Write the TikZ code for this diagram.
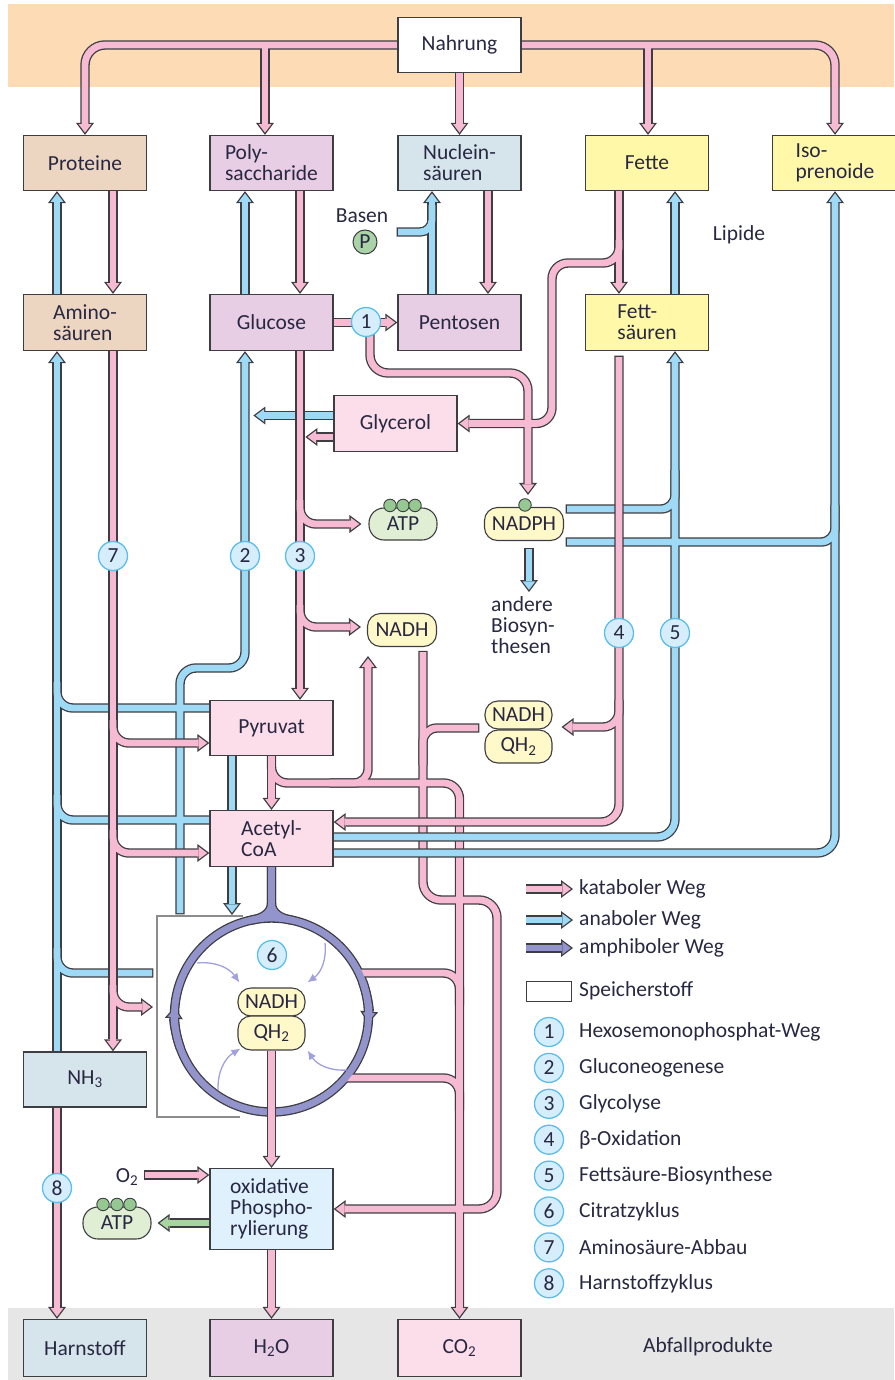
\documentclass[tikz,border=0pt]{standalone}
\usepackage{fontspec}
\setmainfont{Carlito}
\usepackage{xcolor}
\usepackage{tikz}
\usetikzlibrary{arrows.meta, calc, positioning}
\definecolor{txt}{RGB}{40,40,66}
\definecolor{rand}{RGB}{62,62,66}
\definecolor{katc}{RGB}{246,186,211}
\definecolor{anac}{RGB}{158,217,246}
\definecolor{amphc}{RGB}{148,148,204}
\definecolor{gruenc}{RGB}{168,212,160}
\definecolor{peach}{RGB}{253,219,180}
\definecolor{grau}{RGB}{230,230,230}
\definecolor{protc}{RGB}{236,214,194}
\definecolor{zuckc}{RGB}{232,206,228}
\definecolor{nucc}{RGB}{214,228,236}
\definecolor{fettc}{RGB}{255,248,168}
\definecolor{rosac}{RGB}{252,222,234}
\definecolor{oxc}{RGB}{222,241,252}
\definecolor{kapc}{RGB}{255,248,200}
\definecolor{atpc}{RGB}{224,238,212}
\definecolor{punktc}{RGB}{150,200,146}
\definecolor{numc}{RGB}{214,238,252}
\definecolor{numrand}{RGB}{90,190,236}
\definecolor{pfeilc}{RGB}{160,160,222}

\newcommand\grundfont{\fontsize{21.5}{21}\selectfont}

\pgfdeclarelayer{wege}
\pgfsetlayers{wege,main}

\tikzset{
  box/.style={draw=rand, line width=1.3pt, minimum width=123pt, minimum height=55pt, inner sep=0pt, align=left},
  kap/.style={draw=rand, line width=1.1pt, fill=kapc, rounded corners=13pt, inner sep=0pt, minimum width=67pt, minimum height=30pt},
  punkt/.style={circle, draw=rand, line width=0.9pt, fill=punktc, minimum size=12.5pt, inner sep=0pt},
  num/.style={circle, draw=numrand, line width=1.3pt, fill=numc, minimum size=29pt, inner sep=0pt},
  lbl/.style={inner sep=0pt},
  innen/.style={draw=pfeilc, line width=1.3pt, -{Latex[length=9pt,width=8pt]}},
  pass1/.style={
    kat/.style={draw=rand, line width=9.4pt},
    ana/.style={draw=rand, line width=9.4pt},
    amph/.style={draw=rand, line width=9.4pt},
    gruen/.style={draw=rand, line width=9.4pt},
    pf/.style={-{Triangle[length=12pt,width=18pt,line width=0pt]}},
    frei/.style={shorten <=-1.3pt}},
  pass2/.style={
    kat/.style={draw=katc, line width=6.8pt},
    ana/.style={draw=anac, line width=6.8pt},
    amph/.style={draw=amphc, line width=6.8pt},
    gruen/.style={draw=gruenc, line width=6.8pt},
    pf/.style={-{Triangle[length=8.5pt,width=12.8pt,line width=0pt]}, shorten >=2.2pt},
    frei/.style={}}
}

%% untere Ebene
\newcommand\wegeA{
  % Nahrung
  \draw[kat,pf,rounded corners=20pt] (nahrung.west) -| (prot.north);
  \draw[kat,pf] (jn1) -- (jn1 |- poly.north);
  \draw[kat,pf] (nahrung.south) -- (nuc.north);
  \draw[kat,pf] (jn2) -- (jn2 |- fette.north);
  \draw[kat,pf,rounded corners=20pt] (nahrung.east) -| (iso.north);
  % Speicherstoffe <-> Bausteine
  \draw[kat,pf] ([xshift=28pt]prot.south) -- ([xshift=28pt]amino.north);
  \draw[ana,pf] ([xshift=-28pt]amino.north) -- ([xshift=-28pt]prot.south);
  \draw[kat,pf] ([xshift=28.5pt]poly.south) -- ([xshift=28.5pt]gluc.north);
  \draw[ana,pf] ([xshift=-26.5pt]gluc.north) -- ([xshift=-26.5pt]poly.south);
  \draw[kat,pf] ([xshift=28.5pt]nuc.south) -- ([xshift=28.5pt]pent.north);
  \draw[ana,pf] ([xshift=-27.5pt]pent.north) -- ([xshift=-27.5pt]nuc.south);
  \draw[ana,frei,rounded corners=12pt] (bas) -| (jbas);
  \draw[kat,pf] ([xshift=-28pt]fette.south) -- ([xshift=-28pt]fs.north);
  \draw[ana,pf] ([xshift=28pt]fs.north) -- ([xshift=28pt]fette.south);
  \draw[kat,pf,rounded corners=16pt] (jf1) |- (jf2) |- (glyc.east);
  % Weg 1
  \draw[kat,pf] (gluc.east) -- (pent.west);
  \draw[kat,pf,rounded corners=18pt] ([xshift=4pt]n1.center) |- (j1) -- ($(nadph.north)+(4,-12)$);
  \draw[ana,pf,frei] ($(nadph.south)+(5,8)$) -- ($(nadph.south)+(5,51)$);
  % Glycerol
  \draw[ana,pf] ([yshift=8pt]glyc.west) -- ++(-80,0);
  \draw[kat,pf] ([yshift=-13.5pt]glyc.west) -- ++(-28,0);
  % anabol zu Aminosaeuren
  \draw[ana,pf] ([xshift=-28pt]nh3.north) -- ([xshift=-28pt]amino.south);
  \draw[ana,rounded corners=16pt] ([yshift=20pt]pyr.west) -| (jb1);
  \draw[ana,rounded corners=16pt] ([yshift=18.5pt]acoa.west) -| (jb2);
  \draw[ana,frei,rounded corners=16pt] (jb3) -| (jb4);
  % Gluconeogenese
  \draw[ana,pf,frei,rounded corners=16pt] (jg1) |- (jg2) -- ([xshift=-26.5pt]gluc.south);
  \draw[ana,pf] ([xshift=-39.5pt]pyr.south) -- (jp1);
  % Pyruvat
  \draw[kat,pf] (pyr.south) -- (acoa.north);
  \draw[kat,pf,rounded corners=16pt] (pyr.south) |- (j6) -- (co2.north);
  \draw[kat,pf,rounded corners=14pt] (j6a) -| ($(nadh1.south)+(-34,9)$);
  % NADH -> Atmungskette
  \draw[kat,pf,frei,rounded corners=18pt] ($(nadh1.south)+(21,5)$) |- (jn4) |- (oxph.east);
  \draw[kat,frei,rounded corners=14pt] (jq1) -| (jq2);
  % Citratzyklus
  \draw[kat,rounded corners=16pt] (jz1) -| (jz2);
  \draw[kat,rounded corners=16pt] (jz3) -| (jz4);
  \draw[amph] (acoa.south) -- ($(zyk)+(0,-97)$);
  \draw[amph] (acoa.south) -- ++(0,36) to[out=270,in=172] (jz5);
  \draw[amph] (acoa.south) -- ++(0,36) to[out=270,in=8] (jz6);
  \draw[amph] (zyk) circle[radius=97];
  \draw[amph,pf] ($(zyk)+(-20:97)$) arc[start angle=-20, end angle=5, radius=97];
  \draw[amph,pf] ($(zyk)+(160:97)$) arc[start angle=160, end angle=185, radius=97];
  % Ausscheidung
  \draw[kat,pf] ([xshift=-28pt]nh3.south) -- ([xshift=-28pt]harn.north);
  \draw[kat,pf] (oxph.south) -- (wasser.north);
  \draw[kat,pf,frei] ([xshift=7pt,yshift=2pt]o2.east) -- ([yshift=34pt]oxph.west);
  \draw[gruen,pf] ([yshift=-14pt]oxph.west) -- ([xshift=6pt]atp2.east);
  % Legende
  \draw[kat,pf] (lk1) -- (lk2);
  \draw[ana,pf] (la1) -- (la2);
  \draw[amph,pf] (lm1) -- (lm2);
}

%% mittlere Ebene
\newcommand\wegeB{
  \draw[kat,pf] ([xshift=28.5pt]gluc.south) -- ([xshift=28.5pt]pyr.north);
  \draw[kat,pf,rounded corners=16pt] (j3a) |- ([xshift=-7pt]atp1.west);
  \draw[kat,pf,rounded corners=16pt] (j3b) |- ([xshift=-6pt,yshift=3pt]nadh1.west);
  \draw[kat,pf] ([xshift=28pt]amino.south) -- ([xshift=28pt]nh3.north);
  \draw[kat,pf,rounded corners=16pt] (j7a) |- ([yshift=-15pt]pyr.west);
  \draw[kat,pf,rounded corners=16pt] (j7b) |- ([yshift=-14.5pt]acoa.west);
  \draw[kat,pf,rounded corners=16pt] (j7c) |- (j7d);
  \draw[ana,pf,rounded corners=18pt] ([yshift=1.5pt]acoa.east) -| ([xshift=28pt]fs.south);
  \draw[ana,pf,rounded corners=18pt] ([yshift=-14.5pt]acoa.east) -| (iso.south);
  \draw[ana,frei,rounded corners=14pt] (js1) -| (js2);
  \draw[ana,frei,rounded corners=14pt] (js3) -| (js4);
  \draw[kat,pf] (qh2b.south) -- (oxph.north);
}

%% obere Ebene
\newcommand\wegeC{
  \draw[kat,pf,frei,rounded corners=18pt] (j4a) |- ([yshift=16.5pt]acoa.east);
  \draw[kat,pf,rounded corners=16pt] (j4b) |- ($(nadh2.east)+(9,12)$);
}

\begin{document}
\begin{tikzpicture}[x=1pt, y=-1pt, every node/.style={font=\grundfont, text=txt}]
\useasboundingbox (0,0) rectangle (894,1380);

% Kaesten
\node[box, fill=white] (nahrung) at (459.5,45) {Nahrung};
\node[box, fill=protc] (prot) at (85,163) {Proteine};
\node[box, fill=zuckc] (poly) at (271.5,163) {Poly-\\saccharide};
\node[box, fill=nucc] (nuc) at (459.5,163) {Nuclein-\\säuren};
\node[box, fill=fettc] (fette) at (647,163) {Fette};
\node[box, fill=fettc, minimum width=125pt] (iso) at (835,163) {Iso-\\prenoide};
\node[box, fill=protc, minimum height=56pt] (amino) at (85,322.5) {Amino-\\säuren};
\node[box, fill=zuckc, minimum height=56pt] (gluc) at (271.5,322.5) {Glucose};
\node[box, fill=zuckc, minimum height=56pt] (pent) at (459.5,322.5) {Pentosen};
\node[box, fill=fettc, minimum height=56pt] (fs) at (647,322.5) {Fett-\\säuren};
\node[box, fill=rosac, minimum height=56pt] (glyc) at (395.5,423.5) {Glycerol};
\node[box, fill=rosac] (pyr) at (271.5,728) {Pyruvat};
\node[box, fill=rosac, minimum height=56pt] (acoa) at (271.5,838.5) {Acetyl-\\CoA};
\node[box, fill=nucc] (nh3) at (85,1079.5) {NH\textsubscript{3}};
\node[box, fill=oxc, minimum height=81pt] (oxph) at (271.5,1209) {oxidative\\Phospho-\\rylierung};
\node[box, fill=nucc, minimum height=57pt] (harn) at (85,1348) {Harnstoff};
\node[box, fill=zuckc, minimum height=57pt] (wasser) at (271.5,1348) {H\textsubscript{2}O};
\node[box, fill=rosac, minimum height=57pt] (co2) at (459.5,1348) {CO\textsubscript{2}};

% Coenzyme
\node[kap, fill=atpc, minimum width=68pt, minimum height=32pt, rounded corners=15pt] (atp1) at (403,524) {ATP};
\foreach \i/\dx in {1/-13,2/0,3/12} \node[punkt] (atp1p\i) at ($(atp1.north)+(\dx,-2)$) {};
\node[kap, minimum width=79pt, minimum height=33pt] (nadph) at (524,524) {NADPH};
\node[punkt] (nadphp) at ($(nadph.north)+(1,-2)$) {};
\node[kap, minimum width=69pt, minimum height=33pt] (nadh1) at (402,630) {NADH};
\node[kap, minimum height=28pt] (nadh2) at (518.5,715) {NADH};
\node[kap, minimum height=33pt] (qh2a) at (518.5,746.5) {QH\textsubscript{2}};
\node[kap, minimum height=28pt] (nadh3) at (271.5,1002) {NADH};
\node[kap, minimum height=34pt] (qh2b) at (271.5,1033) {QH\textsubscript{2}};
\node[kap, fill=atpc, minimum width=68pt, minimum height=32pt, rounded corners=15pt] (atp2) at (117,1223) {ATP};
\foreach \i/\dx in {1/-14,2/0,3/13} \node[punkt] (atp2p\i) at ($(atp2.north)+(\dx,-2)$) {};

% Beschriftungen
\node[lbl] (basen) at (362,216) {Basen};
\node[circle, draw=rand, line width=1pt, fill=punktc!80, minimum size=24pt, inner sep=0pt] (phos) at (365,242) {P};
\node[lbl] (lipide) at (739,235) {Lipide};
\node[lbl, anchor=north west, align=left] (biosyn) at (491,596) {andere\\Biosyn-\\thesen};
\node[lbl] (o2) at (127,1177) {O\textsubscript{2}};
\node[lbl] (abfall) at (708,1347) {Abfallprodukte};

% Nummern
\node[num] (n1) at (366,322) {1};
\node[num] (n2) at (245,556) {2};
\node[num] (n3) at (300,556) {3};
\node[num] (n4) at (619,633) {4};
\node[num] (n5) at (675,633) {5};
\node[num] (n6) at (272,955) {6};
\node[num] (n7) at (113,556) {7};
\node[num] (n8) at (57,1188) {8};

% Legende
\node[lbl, anchor=west] (lkt) at (579,889) {kataboler Weg};
\node[lbl, anchor=west] (lat) at (579,920) {anaboler Weg};
\node[lbl, anchor=west] (lmt) at (579,948) {amphiboler Weg};
\node[draw=rand, line width=1.3pt, minimum width=45pt, minimum height=20pt, inner sep=0pt] (lsp) at (549,991.5) {};
\node[lbl, anchor=west] (lspt) at (579,991) {Speicherstoff};
\foreach \nr/\wort [count=\k from 0] in {1/Hexosemonophosphat-Weg, 2/Gluconeogenese, 3/Glycolyse, 4/β-Oxidation, 5/Fettsäure-Biosynthese, 6/Citratzyklus, 7/Aminosäure-Abbau, 8/Harnstoffzyklus} {
  \node[num] (leg\nr) at (549, 1032+35.9*\k) {\nr};
  \node[lbl, anchor=west] (legt\nr) at (579, 1032+35.9*\k) {\wort};
}

% Hilfspunkte
\coordinate (jn1) at (265,45);
\coordinate (jn2) at (648,45);
\coordinate (bas) at (398,232);
\coordinate (jbas) at (432,205);
\coordinate (jf1) at (619,240);
\coordinate (jf2) at (552,263);
\coordinate (j1) at (528,373);
\coordinate (jb1) at (57,682);
\coordinate (jb2) at (57,795);
\coordinate (jb3) at (152,973);
\coordinate (jb4) at (57,948);
\coordinate (jg1) at (180,913);
\coordinate (jg2) at (245,668);
\coordinate (jp1) at (232,915);
\coordinate (j6) at (459.5,783);
\coordinate (j6a) at (330,783);
\coordinate (jn4) at (497,900);
\coordinate (jq1) at (478,728);
\coordinate (jq2) at (423,765);
\coordinate (zyk) at (271.5,1015);
\coordinate (jz1) at (358,973);
\coordinate (jz2) at (459.5,1005);
\coordinate (jz3) at (346,1078);
\coordinate (jz4) at (459.5,1110);
\coordinate (jz5) at (291.7,920.1);
\coordinate (jz6) at (251.3,920.1);
\coordinate (j3a) at (300,500);
\coordinate (j3b) at (300,605);
\coordinate (j7a) at (113,720);
\coordinate (j7b) at (113,830);
\coordinate (j7c) at (113,985);
\coordinate (j7d) at (153,1007);
\coordinate (js1) at (567,509);
\coordinate (js2) at (675,470);
\coordinate (js3) at (567,542);
\coordinate (js4) at (835,505);
\coordinate (j4a) at (619,357);
\coordinate (j4b) at (619,700);
\coordinate (lk1) at (526,889);
\coordinate (lk2) at (573,889);
\coordinate (la1) at (526,920);
\coordinate (la2) at (573,920);
\coordinate (lm1) at (526,948);
\coordinate (lm2) at (573,948);
\coordinate (ip1) at (197,963);
\coordinate (ip2) at (325,943);
\coordinate (ip3) at (218,1090);
\coordinate (ip4) at (347,1070);

\begin{pgfonlayer}{wege}
  \fill[peach] (8,4) rectangle (894,87);
  \fill[grau] (8,1308) rectangle (894,1380);
  \draw[black!45, line width=1.3pt] (243,916) -- (157,916) -- (157,1117) -- (240,1117);
  \begin{scope}[pass1] \wegeA \end{scope}
  \begin{scope}[pass2] \wegeA \end{scope}
  \begin{scope}[pass1] \wegeB \end{scope}
  \begin{scope}[pass2] \wegeB \end{scope}
  \begin{scope}[pass1] \wegeC \end{scope}
  \begin{scope}[pass2] \wegeC \end{scope}
  \draw[innen] (ip1) to[bend left=30] ($(nadh3.north west)+(2,-5)$);
  \draw[innen] (ip2) to[bend left=30] ($(nadh3.north east)+(2,-5)$);
  \draw[innen] (ip3) to[bend left=30] ($(qh2b.south west)+(3,-2)$);
  \draw[innen] (ip4) to[bend left=30] ($(qh2b.south east)+(2,0)$);
\end{pgfonlayer}
\end{tikzpicture}
\end{document}
